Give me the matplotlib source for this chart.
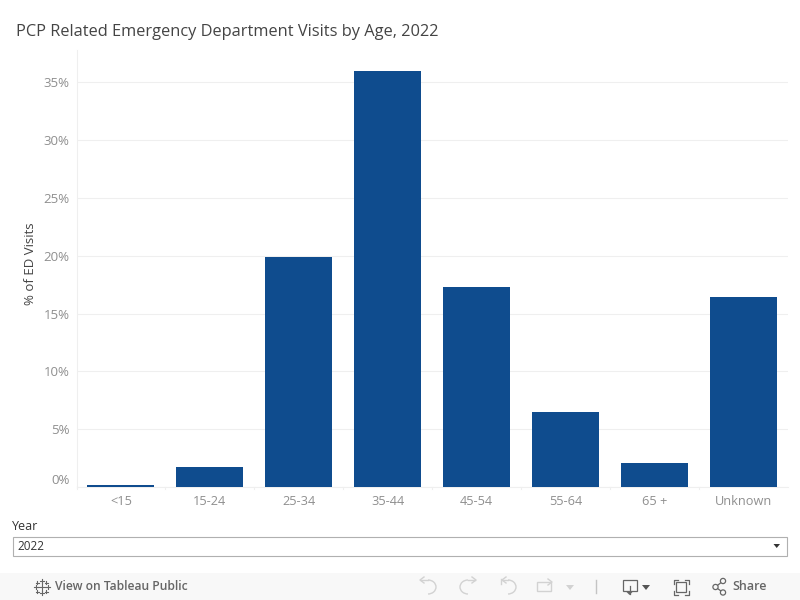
import numpy as np
import matplotlib
matplotlib.use("Agg")
import matplotlib.pyplot as plt
from matplotlib.patches import Rectangle, Arc, Circle, Polygon

plt.rcParams['font.family'] = ['Open Sans', 'DejaVu Sans']

# datos
categorias = ["<15", "15-24", "25-34", "35-44", "45-54", "55-64", "65 +", "Unknown"]
valores = [0.2, 1.7, 19.9, 36.0, 17.3, 6.5, 2.1, 16.4]
ticks_y = [0, 5, 10, 15, 20, 25, 30, 35]
etiquetas_y = ["0%", "5%", "10%", "15%", "20%", "25%", "30%", "35%"]

AZUL = "#0f4c8e"
GRIS_LINEA = "#efefef"
GRIS_TEXTO = "#8f8f8f"

W, H = 800, 600
fig = plt.figure(figsize=(8, 6), dpi=100, facecolor="white")


def caja(x0, y0, x1, y1):
    # pasa pixeles de la imagen (origen arriba) a fraccion de figura
    return [x0 / W, 1 - y1 / H, (x1 - x0) / W, (y1 - y0) / H]


# 1. Grafico de barras
ax = fig.add_axes(caja(76.5, 50, 788, 487))
x = np.arange(len(categorias))
ax.bar(x, valores, width=0.753, color=AZUL, zorder=3)
ax.set_xlim(-0.5, len(categorias) - 0.5)
ax.set_ylim(0, 437 / 11.56)

ax.set_yticks(ticks_y)
ax.set_yticklabels(etiquetas_y, fontsize=9.5, color=GRIS_TEXTO)
ax.get_yticklabels()[0].set_va("bottom")
ax.set_xticks(x)
ax.set_xticklabels(categorias, fontsize=9.2, color=GRIS_TEXTO)
ax.tick_params(axis="y", length=0, pad=5)
ax.tick_params(axis="x", length=0, pad=6)
ax.grid(axis="y", color=GRIS_LINEA, linewidth=0.8, zorder=0)
ax.set_axisbelow(True)
for lado in ["top", "right"]:
    ax.spines[lado].set_visible(False)
ax.spines["left"].set_color(GRIS_LINEA)
ax.spines["bottom"].set_color(GRIS_LINEA)
ax.set_ylabel("% of ED Visits", fontsize=9.5, color="#444444", labelpad=0)
ax.yaxis.set_label_coords(-40 / 711.5, 0.511)

# marcas separadoras del eje x
for s in np.arange(len(categorias)):
    ax.plot([s - 0.5, s - 0.5], [0, -0.004], transform=ax.get_xaxis_transform(),
            color=GRIS_LINEA, lw=0.8, clip_on=False)

# 2. Capa en pixeles para titulo, filtro y barra de herramientas
capa = fig.add_axes([0, 0, 1, 1], zorder=5)
capa.set_xlim(0, W)
capa.set_ylim(H, 0)
capa.axis("off")
capa.patch.set_alpha(0)

capa.text(16, 32.5, "PCP Related Emergency Department Visits by Age, 2022",
          fontsize=11.8, color="#444444", va="center")

capa.text(12, 526, "Year", fontsize=9, color="#333333", va="center")
capa.add_patch(Rectangle((13, 536.5), 773.5, 19, fc="white", ec="#b0b0b0", lw=0.8))
capa.text(17, 546, "2022", fontsize=8.5, color="#333333", va="center")
capa.add_patch(Polygon([(773.5, 544), (780, 544), (776.7, 548)], fc="#333333", ec="none"))

capa.add_patch(Rectangle((0, 573), W, 27, fc="#f8f8f8", ec="none"))
capa.text(55, 587, "View on Tableau Public", fontsize=8.7, color="#666666",
          va="center", fontweight="semibold")
capa.text(732, 587, "Share", fontsize=9, color="#666666", va="center",
          fontweight="semibold")

# logo de Tableau
for dx, dy, r in [(0, 0, 4), (-6, 0, 2), (6, 0, 2), (0, -6, 2), (0, 6, 2),
                  (-4.5, -4.5, 1.5), (4.5, -4.5, 1.5), (-4.5, 4.5, 1.5), (4.5, 4.5, 1.5)]:
    capa.plot([41.5 + dx - r, 41.5 + dx + r], [587 + dy, 587 + dy], color="#666666", lw=0.8)
    capa.plot([41.5 + dx, 41.5 + dx], [587 + dy - r, 587 + dy + r], color="#666666", lw=0.8)

# iconos deshabilitados: deshacer, rehacer, revertir, actualizar
GRIS_ICONO = "#d2d2d2"
capa.add_patch(Arc((428, 587), 16, 14, theta1=-90, theta2=90, color=GRIS_ICONO, lw=1))
capa.plot([421, 428], [580, 580], color=GRIS_ICONO, lw=1)
capa.plot([424, 420, 424], [577, 580, 583], color=GRIS_ICONO, lw=1)

capa.add_patch(Arc((468, 587), 16, 14, theta1=90, theta2=270, color=GRIS_ICONO, lw=1))
capa.plot([468, 475], [580, 580], color=GRIS_ICONO, lw=1)
capa.plot([472, 476, 472], [577, 580, 583], color=GRIS_ICONO, lw=1)

capa.add_patch(Arc((508, 587), 16, 14, theta1=-90, theta2=90, color=GRIS_ICONO, lw=1))
capa.plot([503, 508], [580, 580], color=GRIS_ICONO, lw=1)
capa.plot([506, 502, 506], [577, 580, 583], color=GRIS_ICONO, lw=1)
capa.plot([500.5, 500.5], [579, 584], color=GRIS_ICONO, lw=1)

capa.add_patch(Rectangle((537, 582), 14, 9, fc="none", ec=GRIS_ICONO, lw=1))
capa.plot([548, 552, 548], [579, 582, 585], color=GRIS_ICONO, lw=1)
capa.add_patch(Polygon([(566, 585), (574, 585), (570, 590)], fc=GRIS_ICONO, ec="none"))
capa.plot([595.5, 595.5], [580, 593], color="#c4c4c4", lw=1)

# descarga
capa.add_patch(Rectangle((622.5, 580), 14, 11, fc="none", ec="#666666", lw=0.9))
capa.plot([629.5, 629.5], [586, 594], color="#666666", lw=0.9)
capa.add_patch(Polygon([(626.5, 592), (632.5, 592), (629.5, 595)], fc="#666666", ec="none"))
capa.add_patch(Polygon([(642, 585), (650, 585), (646, 590)], fc="#555555", ec="none"))

# pantalla completa
capa.add_patch(Rectangle((676, 582), 10, 10, fc="none", ec="#666666", lw=0.9))
for cx, sx in [(673.5, 1), (688.5, -1)]:
    for cy, sy in [(579.5, 1), (594.5, -1)]:
        capa.plot([cx + 4 * sx, cx, cx], [cy, cy, cy + 4 * sy], color="#666666", lw=0.9)

# compartir
for cx, cy in [(715.5, 587), (723, 581), (723, 592.5)]:
    capa.add_patch(Circle((cx, cy), 2.6, fc="#f8f8f8", ec="#666666", lw=0.9, zorder=3))
capa.plot([723, 715.5, 723], [581, 587, 592.5], color="#666666", lw=0.9, zorder=2)

fig.savefig("out.png", dpi=100)
